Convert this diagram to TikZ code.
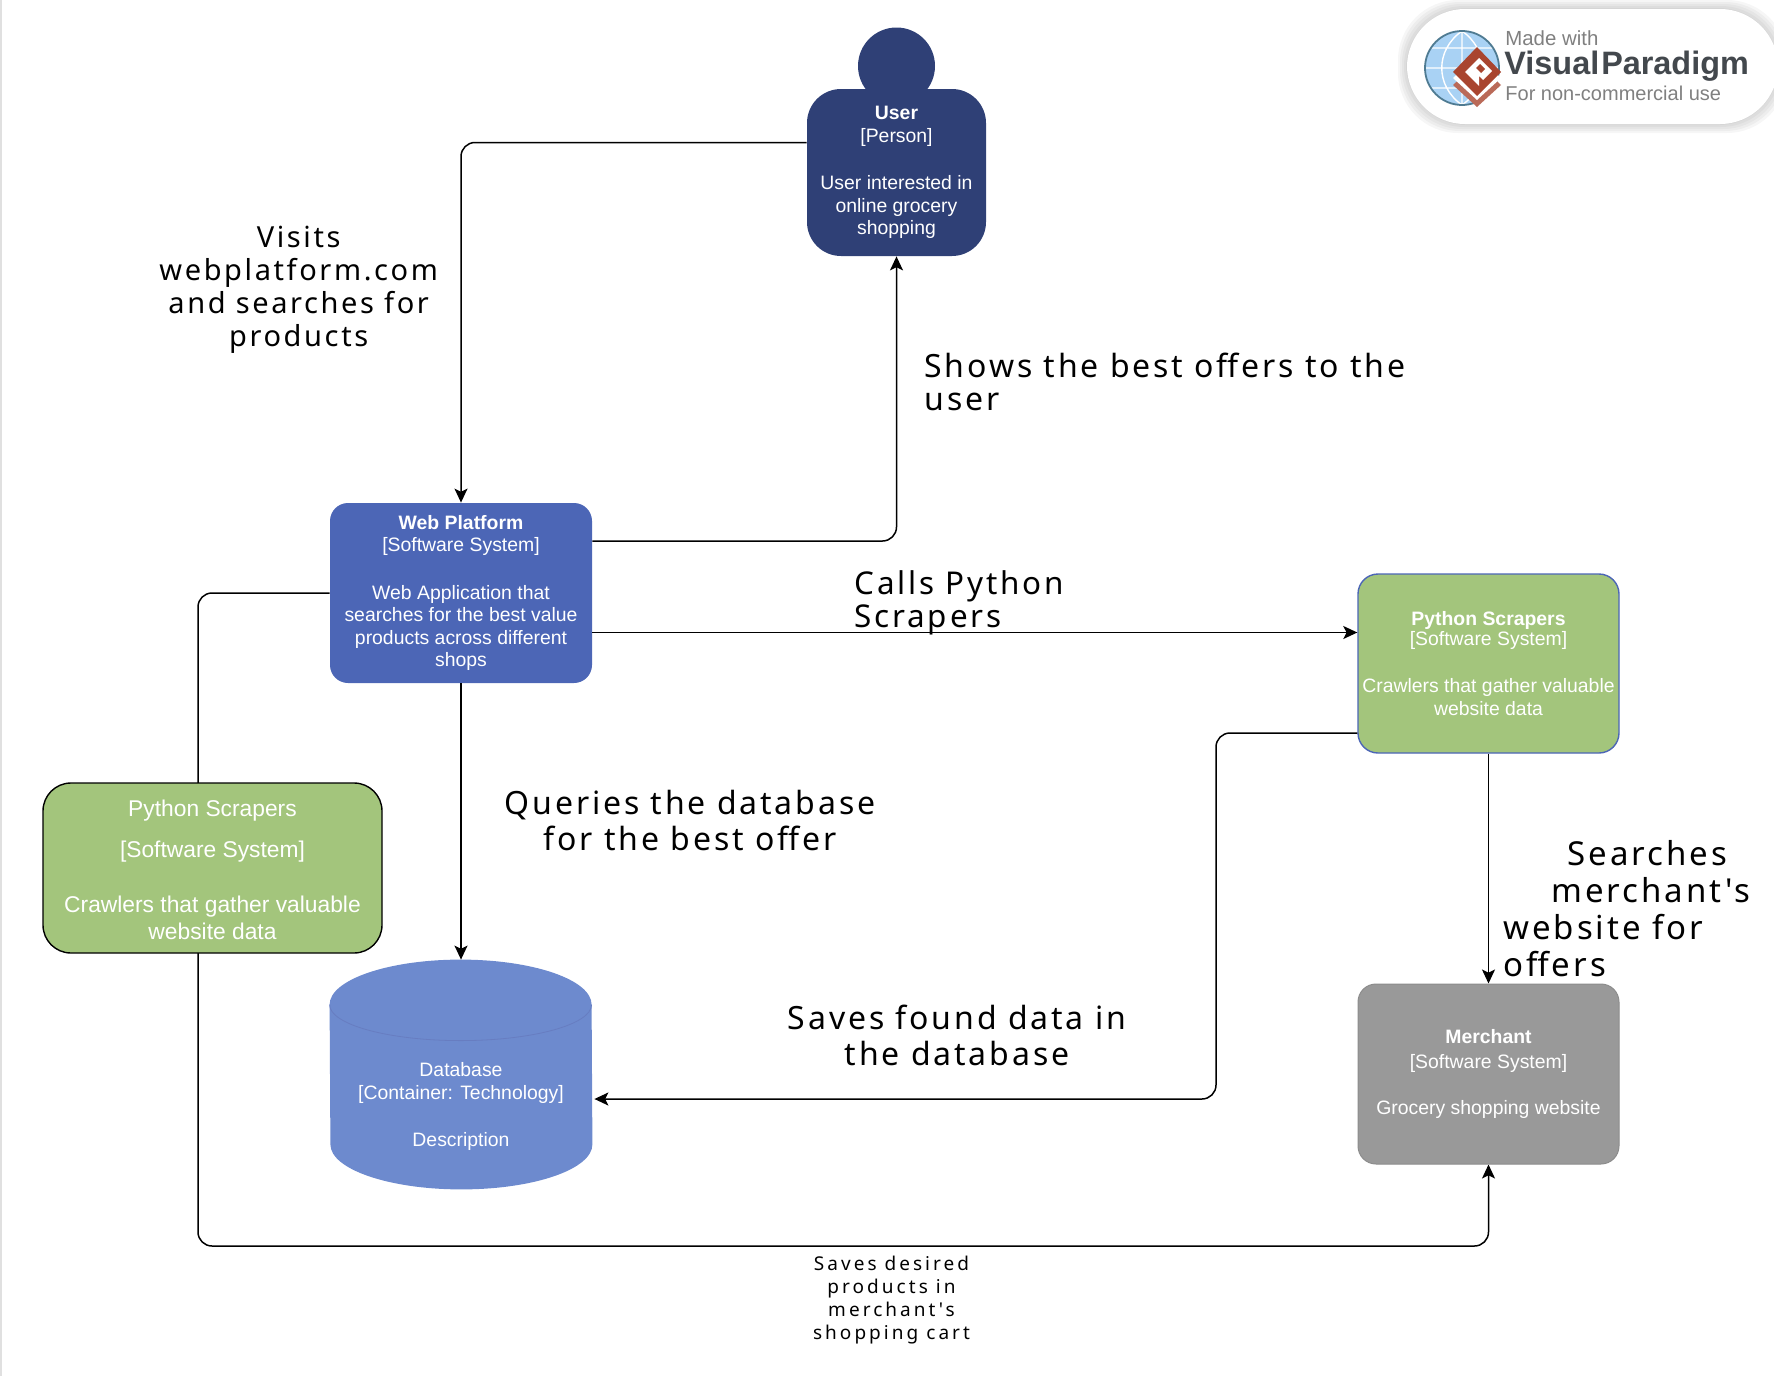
\documentclass[tikz,border=0pt]{standalone}
\usepackage{fontspec}
\setmainfont{Liberation Sans}
\newfontfamily\labelfont[LetterSpace=9]{Noto Sans}
\newfontfamily\cartfont[LetterSpace=16]{Noto Sans}
\usetikzlibrary{arrows.meta,backgrounds}
\definecolor{usercolor}{HTML}{2F4076}
\definecolor{webcolor}{HTML}{4C66B6}
\definecolor{dbcolor}{HTML}{6D8ACE}
\definecolor{scrapercolor}{HTML}{A3C57C}
\definecolor{merchantcolor}{HTML}{999999}
\definecolor{logotext}{HTML}{43484D}
\definecolor{logored}{HTML}{A9452F}
\definecolor{globecolor}{HTML}{A9D2F4}
\definecolor{globering}{HTML}{4F7B92}
\tikzset{
    boxtext/.style={text=white, align=center, inner sep=0pt, font=\fontsize{9.7}{11.3}\selectfont},
    conn/.style={line width=0.75pt, rounded corners=7pt, -{Stealth[length=7pt,width=6.5pt,inset=1.6pt]}},
    edgelabel/.style={inner sep=0pt, text=black, align=center},
}
\begin{document}
\begin{tikzpicture}[x=0.5pt,y=-0.5pt]
    \useasboundingbox (0,0) rectangle (1774,1376);
    \draw[black!12, line width=0.6pt] (1,0) -- (1,1376);

    % boxes
    \node[circle, fill=usercolor, minimum size=38.5pt, inner sep=0pt] (userhead) at (896.5,66) {};
    \node[boxtext, fill=usercolor, rounded corners=17pt, minimum width=89.5pt, minimum height=83.5pt] (user) at (896.5,172.5)
        {\textbf{User}\\{[Person]}\\[12.4pt]User interested in\\online grocery\\shopping};
    \node[boxtext, fill=webcolor, rounded corners=9pt, minimum width=131pt, minimum height=90pt] (web) at (461,593)
        {\textbf{Web Platform}\\{[Software System]}\\[12.4pt]Web Application that\\searches for the best value\\products across different\\shops};
    \node[boxtext, fill=scrapercolor, draw=black, line width=0.7pt, rounded corners=14pt, minimum width=169.5pt, minimum height=85pt,
        font=\fontsize{11.4}{13.5}\selectfont] (pyleft) at (212.5,868)
        {\rule{0pt}{10pt}Python Scrapers\\[7pt]{[Software System]}\\[14pt]Crawlers that gather valuable\\website data};
    \node[boxtext, fill=scrapercolor, draw=webcolor, line width=0.7pt, rounded corners=10pt, minimum width=130.5pt, minimum height=89.5pt] (pyright) at (1488.5,663.5)
        {\textbf{Python Scrapers}\\[-1.7pt]{[Software System]}\\[12.4pt]Crawlers that gather valuable\\website data};
    \node[boxtext, fill=merchantcolor, draw=black!45, line width=0.5pt, rounded corners=9pt, minimum width=130.5pt, minimum height=90pt] (merchant) at (1488.5,1074)
        {\textbf{Merchant}\\[1.1pt]{[Software System]}\\[11.9pt]Grocery shopping website};
    \node[minimum width=131pt, minimum height=114.5pt, inner sep=0pt] (database) at (461,1074.5) {};
    \fill[dbcolor] ([yshift=-22.5pt]database.north west) arc[start angle=180, end angle=0, x radius=65.5pt, y radius=22.5pt]
        -- ([yshift=22.5pt]database.south east) arc[start angle=0, end angle=-180, x radius=65.5pt, y radius=22.5pt] -- cycle;
    \draw[webcolor!85, line width=0.4pt] ([yshift=-22.5pt]database.north west) arc[start angle=180, end angle=360, x radius=65.5pt, y radius=18pt];
    \node[boxtext] (dbtext) at (461,1106.5) {Database\\{[Container: Technology]}\\[12.4pt]Description};

    % connectors
    \coordinate (saveturn) at (1216,1099);
    \coordinate (cartturn) at (198,1246);
    \begin{scope}[on background layer]
        \draw[conn] (web.west) -| (cartturn) -| (merchant.south);
    \end{scope}
    \draw[conn] ([yshift=15pt]user.west) -| (web.north);
    \draw[conn] ([yshift=26pt]web.east) -| (user.south);
    \draw[conn] ([yshift=-19.75pt]web.east) -- ([yshift=15.5pt]pyright.west);
    \draw[conn] (web.south) -- (database.north);
    \draw[conn] ([yshift=-34.75pt]pyright.west) -| (saveturn) -- ([xshift=1pt,yshift=-12.25pt]database.east);
    \draw[conn] (pyright.south) -- (merchant.north);

    % labels
    \node[edgelabel, font=\labelfont\fontsize{14.5}{16.5}\selectfont] (visitslabel) at (298.7,289.5)
        {Visits\\webplatform.com\\and searches for\\products};
    \node[edgelabel, align=left, anchor=north west, font=\labelfont\fontsize{16}{16.5}\selectfont] (showslabel) at (924,353)
        {Shows the best offers to the\\user};
    \node[edgelabel, align=left, anchor=north west, font=\labelfont\fontsize{15.7}{16.5}\selectfont] (callslabel) at (854,570)
        {Calls Python\\Scrapers};
    \node[edgelabel, font=\labelfont\fontsize{16}{18}\selectfont] (querieslabel) at (690,820)
        {Queries the database\\for the best offer};
    \node[edgelabel, font=\labelfont\fontsize{16}{18}\selectfont] (foundlabel) at (957,1035)
        {Saves found data in\\the database};
    \node[edgelabel, align=left, anchor=north west, font=\labelfont\fontsize{16.5}{18.5}\selectfont] (searcheslabel) at (1503,840)
        {\hspace*{32pt}Searches\\\hspace*{24pt}merchant's\\website for\\offers};
    \node[edgelabel, font=\cartfont\fontsize{9.5}{11.5}\selectfont] (cartlabel) at (891.5,1300)
        {Saves desired\\products in\\merchant's\\shopping cart};

    % logo
    \foreach \s in {9,7,5,3,1}
        \fill[black, opacity=0.035, rounded corners=30pt] (1407-\s,9-\s) rectangle (1778+\s,124+\s);
    \fill[white, rounded corners=29pt] (1407,9) rectangle (1778,124);
    \fill[globecolor] (1462,68) circle (37);
    \draw[white, line width=0.7pt] (1425,68) -- (1499,68) (1462,31) -- (1462,105) (1430,48) -- (1494,48) (1430,88) -- (1494,88)
        (1462,31) .. controls (1435,50) and (1435,86) .. (1462,105) (1462,31) .. controls (1489,50) and (1489,86) .. (1462,105);
    \draw[globering, line width=0.9pt] (1462,68) circle (37);
    \fill[logored!80] (1477,107) -- (1453,85) -- (1477,63) -- (1501,85) -- cycle;
    \fill[white] (1477,100) -- (1453,78) -- (1477,56) -- (1501,78) -- cycle;
    \fill[logored] (1477,96) -- (1453,72) -- (1477,47) -- (1501,72) -- cycle;
    \fill[white] (1465,72) -- (1479,58) -- (1492,71) -- (1483,80) -- (1479,76) -- (1479,86) -- cycle;
    \fill[logored] (1476,68) -- (1480,64) -- (1485,69) -- (1481,73) -- cycle;
    \node[anchor=west, inner sep=0pt, text=black!50, font=\fontsize{10.2}{11}\selectfont] (logotop) at (1505,38) {Made with};
    \node[anchor=west, inner sep=0pt, text=logotext, font=\bfseries\fontsize{16.2}{17}\selectfont] (logoname) at (1504,66) {Visual\hspace{1pt}Paradigm};
    \node[anchor=west, inner sep=0pt, text=black!50, font=\fontsize{10}{11}\selectfont] (logobottom) at (1505,93) {For non-commercial use};
\end{tikzpicture}
\end{document}
